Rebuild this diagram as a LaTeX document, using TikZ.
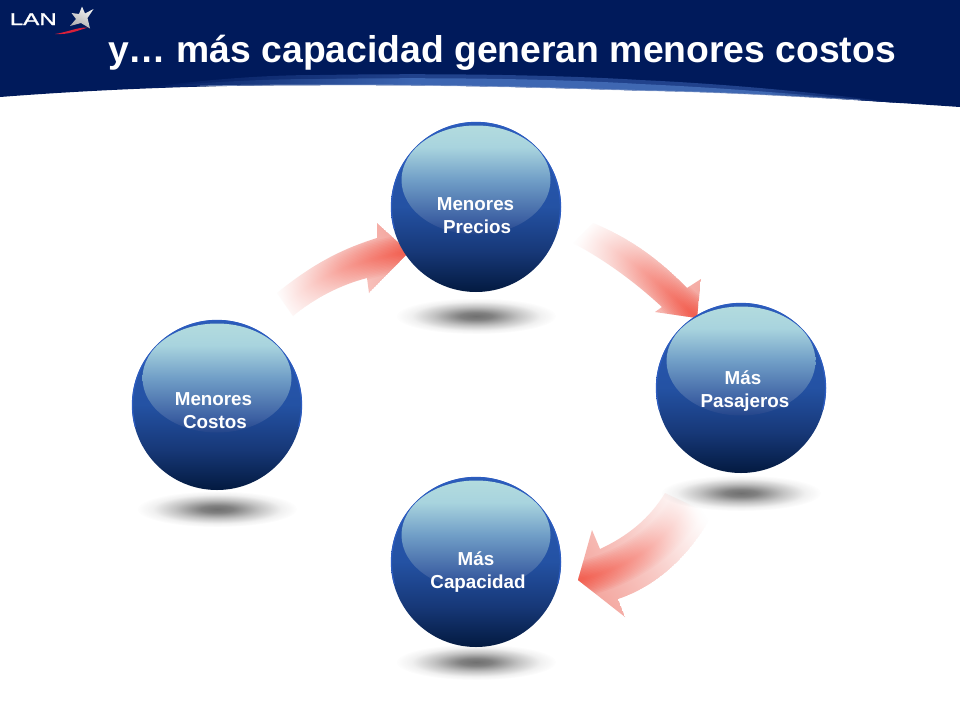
\documentclass[tikz,border=0pt]{standalone}
\usepackage{fontspec}
\setmainfont{Liberation Sans}
\newfontfamily\lanfont[FakeBold=1.2]{Liberation Sans}
\usetikzlibrary{fadings}
\definecolor{navy}{HTML}{001A5B}
\definecolor{ballring}{HTML}{2C5CC0}
\definecolor{redcore}{HTML}{F2402E}
\definecolor{redbase}{HTML}{F4A49C}
\definecolor{swoosh}{HTML}{D8203A}
\definecolor{edgeline}{HTML}{9DB2DA}
\pgfdeclareverticalshading{ballsh}{100bp}{
 rgb(0bp)=(0.01,0.10,0.25);rgb(25bp)=(0.01,0.10,0.25);rgb(37bp)=(0.09,0.22,0.47);rgb(50bp)=(0.14,0.32,0.64);rgb(75bp)=(0.17,0.36,0.72);rgb(100bp)=(0.17,0.36,0.72)}
\pgfdeclareverticalshading{hilitesh}{100bp}{
 rgb(0bp)=(0.15,0.27,0.54);rgb(25bp)=(0.14,0.27,0.54);rgb(32bp)=(0.24,0.38,0.64);rgb(50bp)=(0.44,0.62,0.78);rgb(65bp)=(0.66,0.83,0.87);rgb(75bp)=(0.70,0.86,0.87);rgb(100bp)=(0.70,0.86,0.87)}
\pgfdeclareradialshading{shadowsh}{\pgfpointorigin}{color(0bp)=(white);color(5bp)=(white!88!black);color(13bp)=(white!42!black);color(20bp)=(white!10!black);color(25bp)=(black);color(50bp)=(black)}
\pgfdeclarefading{shadowfade}{\pgfuseshading{shadowsh}}
\pgfdeclarehorizontalshading{veilsh}{100bp}{color(0bp)=(white);color(28bp)=(white);color(30bp)=(white!97!black);color(40bp)=(white!70!black);color(50bp)=(white!42!black);color(60bp)=(white!20!black);color(68bp)=(white!4!black);color(72bp)=(black);color(100bp)=(black)}
\pgfdeclarefading{veilfade}{\pgfuseshading{veilsh}}
\pgfdeclarehorizontalshading{bandsh}{100bp}{rgb(0bp)=(0,0.10,0.36);rgb(25bp)=(0,0.10,0.36);rgb(43bp)=(0.24,0.40,0.70);rgb(66bp)=(0.25,0.41,0.70);rgb(75bp)=(0,0.10,0.36);rgb(100bp)=(0,0.10,0.36)}
\pgfdeclarehorizontalshading{bandsoft}{100bp}{rgb(0bp)=(0,0.10,0.36);rgb(25bp)=(0,0.10,0.36);rgb(43bp)=(0.13,0.26,0.55);rgb(66bp)=(0.13,0.26,0.55);rgb(75bp)=(0,0.10,0.36);rgb(100bp)=(0,0.10,0.36)}
\tikzset{
 x=1pt,y=-1pt,
 titletext/.style={text=white,font=\fontsize{37.3pt}{40pt}\selectfont\bfseries,anchor=base west,inner sep=0pt},
 balltext/.style={text=white,font=\fontsize{18.8pt}{23pt}\selectfont\bfseries,anchor=base,inner sep=0pt},
 ballshape/.style={shading=ballsh},
 ballrim/.style={draw=ballring,line width=1.3pt},
 hilite/.style={shading=hilitesh},
 floorshadow/.style={fill=black!56,path fading=shadowfade},
 veil/.style={fill=white,path fading=veilfade},
}
% #1 centre x, #2 centre y, #3 shadow y
\newcommand{\drawball}[3]{%
 \path[floorshadow] (#1,#3) ellipse [x radius=80,y radius=18];
 \path[ballshape] (#1,#2) circle [radius=85];
 \path[ballrim] (#1,#2) ++(165:84.5) arc [start angle=165,end angle=375,radius=84.5];
 \path[hilite] (#1,#2-27) ellipse [x radius=74.5,y radius=54.5];
}
% #1 outline, #2 centre line, #3 fade centre x, #4 fade centre y, #5 angle
\newcommand{\drawarrow}[5]{%
 \begin{scope}
   \clip #1;
   \fill[redbase] #1;
   \foreach \w in {3,6,...,36}{
     \draw[redcore,opacity=.09,line width=\w pt,line cap=round] #2;
   }
 \end{scope}
 \path[veil,fading angle=#5] (#3-85,#4-85) rectangle (#3+85,#4+85);
}
\begin{document}
\begin{tikzpicture}
\useasboundingbox (0,0) rectangle (960,720);
\fill[white] (0,0) rectangle (960,720);
% arrows
\drawarrow{(277,293) .. controls (315,262) and (345,248) .. (377,238) -- (377,223) -- (409,252) -- (369,293) -- (367,278) .. controls (340,285) and (315,298) .. (293,316) -- cycle}
 {(285,304) .. controls (320,276) and (350,262) .. (409,252)}{346}{278}{22.8}
\drawarrow{(593,223) .. controls (630,238) and (660,260) .. (687,288) -- (701,279) -- (697,318) -- (655,312) -- (662,307) .. controls (635,282) and (605,260) .. (573,243) -- cycle}
 {(583,233) .. controls (620,250) and (650,275) .. (697,318)}{640}{275}{-36.4}
\drawarrow{(665,493) .. controls (650,518) and (628,536) .. (600,549) -- (592,530) -- (578,580) -- (625,617) -- (618,599) .. controls (660,585) and (692,552) .. (712,515) -- cycle}
 {(688,504) .. controls (668,540) and (630,568) .. (578,580)}{633}{542}{214.6}
% header
\fill[navy] (0,0) -- (960,0) -- (960,107)
  .. controls (840,99) and (740,92) .. (640,90.5)
  .. controls (530,87) and (430,84.5) .. (320,85)
  .. controls (200,85) and (90,90) .. (0,97) -- cycle;
\shade[shading=bandsoft] (140,88) .. controls (220,78) and (270,75) .. (320,75)
  .. controls (440,73) and (560,75) .. (640,80)
  .. controls (730,84) and (820,93) .. (900,103)
  .. controls (820,97) and (730,92) .. (640,90.5)
  .. controls (530,87) and (430,84.5) .. (320,85)
  .. controls (250,85) and (190,86) .. (140,88) -- cycle;
\shade[shading=bandsh] (140,88) .. controls (220,81) and (270,79) .. (320,79)
  .. controls (440,77) and (560,79) .. (640,84)
  .. controls (730,88) and (820,96) .. (900,103)
  .. controls (820,97) and (730,92) .. (640,90.5)
  .. controls (530,87) and (430,84.5) .. (320,85)
  .. controls (250,85) and (190,86) .. (140,88) -- cycle;
\draw[edgeline,line width=.7pt,opacity=.7] (200,86) .. controls (250,85) and (285,85) .. (320,85)
  .. controls (430,84.5) and (530,87) .. (640,90.5)
  .. controls (720,92) and (790,96) .. (860,100);
% logo
\node[anchor=base west,inner sep=0pt,text=white,xscale=1.42,font=\lanfont\fontsize{17pt}{17pt}\selectfont] (lan) at (9.5,25) {LAN};
\shade[top color=white!90!gray,bottom color=black!32,shading angle=-25]
 (82,6.5) -- (85,13.5) -- (93.5,9) -- (87.5,18) -- (90,28.5) -- (81,23) -- (70,26) -- (76,19) -- (71.5,13) -- (79,14) -- cycle;
\fill[swoosh] (55,34) .. controls (68,32) and (78,27) .. (88,27.5) .. controls (78,30.5) and (68,35) .. (55,34) -- cycle;
\node[titletext] (title) at (108,62) {y… más capacidad generan menores costos};
% balls
\drawball{476}{207}{316}
\drawball{217}{405}{509}
\drawball{741}{388}{493}
\drawball{476}{562}{662}
% labels
\node[balltext] (l1a) at (475.5,210) {Menores};
\node[balltext] (l1b) at (477,233) {Precios};
\node[balltext] (l2a) at (213.5,405) {Menores};
\node[balltext] (l2b) at (215,428) {Costos};
\node[balltext] (l3a) at (743,384) {Más};
\node[balltext] (l3b) at (745,407) {Pasajeros};
\node[balltext] (l4a) at (476,565) {Más};
\node[balltext] (l4b) at (478,588) {Capacidad};
\end{tikzpicture}
\end{document}
